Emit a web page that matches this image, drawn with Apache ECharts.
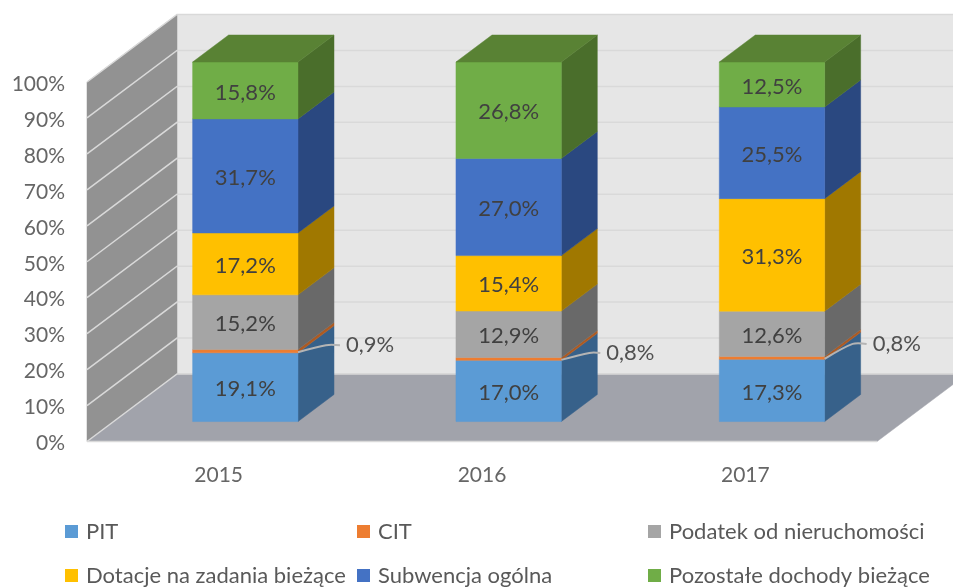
<!DOCTYPE html>
<html>
<head>
<meta charset="utf-8">
<style>html,body{margin:0;padding:0;background:#fff}#c{width:953px;height:587px}</style>
<script src="https://cdn.jsdelivr.net/npm/echarts@6/dist/echarts.min.js"></script>
</head>
<body>
<div id="c"></div>
<script>
const categories = ['2015', '2016', '2017'];
const yTicks = [0, 10, 20, 30, 40, 50, 60, 70, 80, 90, 100];
const seriesNames = ['PIT', 'CIT', 'Podatek od nieruchomości', 'Dotacje na zadania bieżące', 'Subwencja ogólna', 'Pozostałe dochody bieżące'];
const pit = [19.1, 17.0, 17.3];
const cit = [0.9, 0.8, 0.8];
const podatek = [15.2, 12.9, 12.6];
const dotacje = [17.2, 15.4, 31.3];
const subwencja = [31.7, 27.0, 25.5];
const pozostale = [15.8, 26.8, 12.5];
const values = [pit, cit, podatek, dotacje, subwencja, pozostale];

const frontColors = ['#5b9bd5', '#ed7d31', '#a5a5a5', '#ffc000', '#4472c4', '#70ad47'];
const sideColors = ['#37618a', '#ae5a21', '#696969', '#a07800', '#2a4880', '#4a6e2b'];
const topColor = '#598234';

const FONT = 'Lato';
const DEPTH_X = 90, DEPTH_Y = -67.5;   // full floor depth in pixels
const BAR_FRONT = 0.296, BAR_BACK = 0.696, BAR_W = 0.4;
const citLabelShift = [[48, -7], [45, -7], [48, -15]];

function poly(points, fill, extra) {
  return Object.assign({ type: 'polygon', shape: { points }, style: { fill, stroke: fill, lineWidth: 0.5 } }, extra || {});
}
function wallsItem(params, api) {
  const cs = params.coordSys;
  const l = cs.x, r = cs.x + cs.width;
  const y0 = api.coord([0, 0])[1], y1 = api.coord([0, 100])[1];
  return { type: 'group', children: [
    poly([[l + DEPTH_X, y0 + DEPTH_Y], [r + DEPTH_X, y0 + DEPTH_Y], [r + DEPTH_X, y1 + DEPTH_Y], [l + DEPTH_X, y1 + DEPTH_Y]], '#e6e6e6'),
    poly([[l, y0], [l + DEPTH_X, y0 + DEPTH_Y], [l + DEPTH_X, y1 + DEPTH_Y], [l, y1]], '#929292'),
    poly([[l, y0], [r, y0], [r + DEPTH_X, y0 + DEPTH_Y], [l + DEPTH_X, y0 + DEPTH_Y]], '#a1a3ab')
  ]};
}
function gridItem(params, api) {
  const cs = params.coordSys;
  const l = cs.x, r = cs.x + cs.width;
  const y = api.coord([0, api.value(1)])[1];
  const st = { stroke: '#d9d9d9', lineWidth: 1.5, fill: 'none' };
  const kids = [
    { type: 'polyline', shape: { points: [[l, y], [l + DEPTH_X, y + DEPTH_Y], [r + DEPTH_X, y + DEPTH_Y]] }, style: st }
  ];
  if (api.value(1) === 0) kids.push({ type: 'line', shape: { x1: l, y1: y, x2: r, y2: y }, style: st });
  return { type: 'group', children: kids };
}
function barItem(sIdx) {
  return function (params, api) {
    const i = api.value(0), lo = api.value(1), hi = api.value(2), val = api.value(3);
    const band = api.size([1, 0])[0];
    const pLo = api.coord([i, lo]), pHi = api.coord([i, hi]);
    const fx = BAR_FRONT * DEPTH_X, fy = BAR_FRONT * DEPTH_Y;
    const dx = (BAR_BACK - BAR_FRONT) * DEPTH_X, dy = (BAR_BACK - BAR_FRONT) * DEPTH_Y;
    const x0 = pLo[0] + fx - band * BAR_W / 2, x1 = x0 + band * BAR_W;
    const yB = pLo[1] + fy, yT = pHi[1] + fy;
    const kids = [
      poly([[x1, yB], [x1 + dx, yB + dy], [x1 + dx, yT + dy], [x1, yT]], sideColors[sIdx]),
      poly([[x0, yB], [x1, yB], [x1, yT], [x0, yT]], frontColors[sIdx])
    ];
    if (sIdx === values.length - 1) {
      kids.push(poly([[x0, yT], [x1, yT], [x1 + dx, yT + dy], [x0 + dx, yT + dy]], topColor));
    }
    const text = val.toFixed(1).replace('.', ',') + '%';
    const ts = { text, fontFamily: FONT, fontSize: 22, fill: '#404040', verticalAlign: 'middle' };
    if (val < 2) {
      const s = citLabelShift[i];
      const ym = (yB + yT) / 2 + 1;
      const lx = x1 + s[0], ly = ym + s[1];
      kids.push({ type: 'polyline', z2: 20, shape: { points: [[x1, ym], [x1 + 28, ly], [lx - 6, ly]], smooth: 0.3 }, style: { stroke: '#b4b4b4', lineWidth: 2, fill: 'none' } });
      kids.push({ type: 'text', z2: 20, style: Object.assign(ts, { x: lx, y: ly, align: 'left', fill: '#505050' }) });
    } else {
      kids.push({ type: 'text', z2: 20, style: Object.assign(ts, { x: (x0 + x1) / 2, y: (yB + yT) / 2 + 2, align: 'center' }) });
    }
    return { type: 'group', children: kids };
  };
}

const totals = categories.map((c, i) => values.reduce((a, v) => a + v[i], 0));
const barSeries = seriesNames.map((name, s) => {
  const data = categories.map((c, i) => {
    let base = 0;
    for (let k = 0; k < s; k++) base += values[k][i];
    return [i, base / totals[i] * 100, (base + values[s][i]) / totals[i] * 100, values[s][i]];
  });
  return {
    type: 'custom', name, data, z: 3, clip: false,
    itemStyle: { color: frontColors[s] },
    encode: { x: 0, y: [1, 2] },
    renderItem: barItem(s)
  };
});

function legendCol(left, names) {
  return {
    left, top: 520.5, orient: 'vertical', padding: 0, itemGap: 22, itemWidth: 13, itemHeight: 13,
    icon: 'rect', selectedMode: false, data: names,
    textStyle: { fontFamily: FONT, fontSize: 22, color: '#595959', padding: [0, 0, 0, 3] }
  };
}

const chart = echarts.init(document.getElementById('c'), null, { renderer: 'canvas' });
chart.setOption({
  animation: false,
  backgroundColor: '#ffffff',
  grid: { left: 87, right: 76, top: 82, bottom: 145.5 },
  legend: [
    legendCol(65, [seriesNames[0], seriesNames[3]]),
    legendCol(357, [seriesNames[1], seriesNames[4]]),
    legendCol(648, [seriesNames[2], seriesNames[5]])
  ],
  xAxis: {
    type: 'category', data: categories,
    axisLine: { show: false }, axisTick: { show: false },
    axisLabel: { margin: 23, fontFamily: FONT, fontSize: 21, color: '#666666' }
  },
  yAxis: {
    type: 'value', min: 0, max: 100, interval: 10,
    axisLine: { show: false }, axisTick: { show: false }, splitLine: { show: false },
    axisLabel: {
      margin: 22, formatter: '{t|{value}%}',
      rich: { t: { fontFamily: FONT, fontSize: 21, color: '#666666', padding: [4, 0, 0, 0] } }
    }
  },
  series: [
    { type: 'custom', name: 'walls', z: 1, clip: false, silent: true, data: [[0, 0]], encode: { x: 0, y: 1 }, renderItem: wallsItem },
    { type: 'custom', name: 'grid', z: 2, clip: false, silent: true, data: yTicks.map(t => [0, t]), encode: { x: 0, y: 1 }, renderItem: gridItem }
  ].concat(barSeries)
});
</script>
</body>
</html>
